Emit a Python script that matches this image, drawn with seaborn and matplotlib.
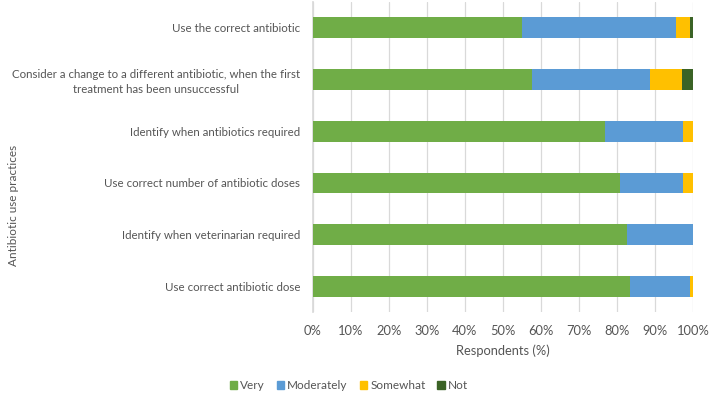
import matplotlib
matplotlib.use("Agg")
import matplotlib.pyplot as plt
import seaborn as sns
import pandas as pd
import numpy as np
from matplotlib.patches import Patch

categories = [
    "Use the correct antibiotic",
    "Consider a change to a different antibiotic, when the first\ntreatment has been unsuccessful",
    "Identify when antibiotics required",
    "Use correct number of antibiotic doses",
    "Identify when veterinarian required",
    "Use correct antibiotic dose",
]
series = ["Very", "Moderately", "Somewhat", "Not"]
very = [55.1, 57.5, 76.9, 80.6, 82.6, 83.3]
moderately = [40.3, 31.2, 20.3, 16.6, 17.4, 15.7]
somewhat = [3.6, 8.4, 2.8, 2.8, 0.0, 1.0]
not_ = [1.0, 2.9, 0.0, 0.0, 0.0, 0.0]
colors = ["#70AD47", "#5B9BD5", "#FFC000", "#3B6326"]
xticks = [0, 10, 20, 30, 40, 50, 60, 70, 80, 90, 100]
xticklabels = [f"{t}%" for t in xticks]

sns.set_theme(style="white")
plt.rcParams["font.family"] = ["Lato", "DejaVu Sans"]

df = pd.DataFrame({"cat": categories, "Very": very, "Moderately": moderately,
                   "Somewhat": somewhat, "Not": not_})
cum = df[series].cumsum(axis=1)

fig = plt.figure(figsize=(7.09, 3.94), dpi=100)
ax = fig.add_axes([0.441, 0.208, 0.537, 0.787])

for s, c in reversed(list(zip(series, colors))):
    sns.barplot(x=cum[s], y=df["cat"], color=c, orient="h", width=0.4,
                ax=ax, saturation=1, linewidth=0, zorder=3)

ax.set_xlim(0, 100)
ax.set_xticks(xticks)
ax.set_xticklabels(xticklabels, color="#555555", fontsize=9.3)
ax.tick_params(axis="y", labelsize=8.3, labelcolor="#555555", length=0, pad=9)
ax.tick_params(axis="x", length=0, pad=9)
for lab in ax.get_yticklabels():
    lab.set_multialignment("center")
    lab.set_linespacing(1.35)
ax.grid(axis="x", color="#D9D9D9", linewidth=0.9, zorder=0)
ax.set_axisbelow(True)
for side in ["top", "right", "bottom"]:
    ax.spines[side].set_visible(False)
ax.spines["left"].set_color("#D9D9D9")
ax.set_xlabel("Respondents (%)", fontsize=9.3, color="#555555", labelpad=6)
ax.set_ylabel("")
fig.text(0.011, 0.478, "Antibiotic use practices", rotation=90, fontsize=8.5,
         color="#555555", ha="left", va="center")

h = [Patch(color=c) for c in colors]
fig.legend(h, series, loc="center", bbox_to_anchor=(0.492, 0.021), ncol=4,
           frameon=False, fontsize=8.5, handlelength=0.65, handleheight=0.65,
           handletextpad=0.25, columnspacing=1.0, labelcolor="#555555")

fig.savefig("out.png", dpi=100)
